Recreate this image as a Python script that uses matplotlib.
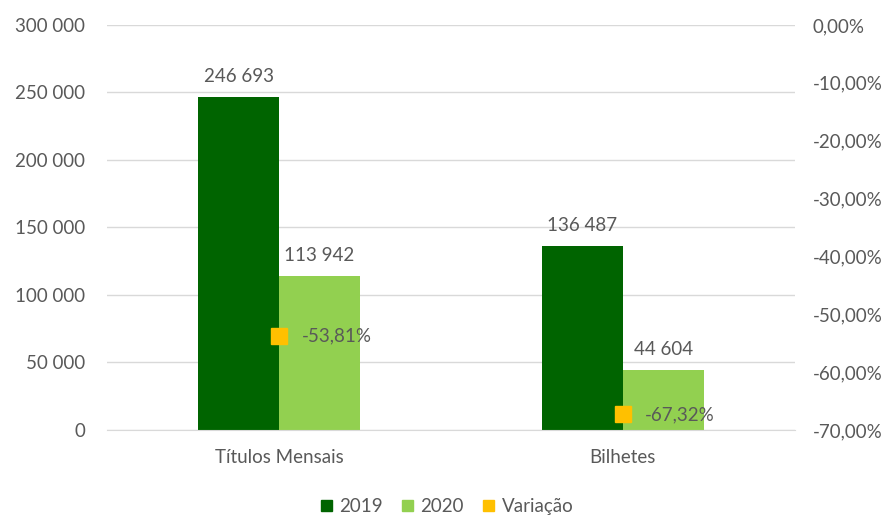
import matplotlib
matplotlib.use("Agg")
import matplotlib.pyplot as plt
import numpy as np
from matplotlib.ticker import FuncFormatter
from matplotlib.patches import Patch

categories = ["Títulos Mensais", "Bilhetes"]
v2019 = [246693, 136487]
v2020 = [113942, 44604]
variacao = [-53.81, -67.32]

plt.rcParams['font.family'] = ['Lato', 'DejaVu Sans']
txt = '#595959'
c2019 = '#006400'
c2020 = '#92d050'
cvar = '#ffc000'
fs = 13.5

fig = plt.figure(figsize=(8.94, 5.19), dpi=100)
ax = fig.add_axes([0.12, 0.1715, 0.769, 0.7805])
ax2 = ax.twinx()

x = np.arange(len(categories))
w = 0.235
b1 = ax.bar(x - w/2, v2019, w, color=c2019, label='2019', zorder=2)
b2 = ax.bar(x + w/2, v2020, w, color=c2020, label='2020', zorder=2)

def fmt_thousands(v):
    return f"{int(round(v)):,}".replace(",", " ")

for rect, v in zip(b1, v2019):
    ax.text(rect.get_x() + rect.get_width()/2, v + 9000, fmt_thousands(v),
            ha='center', va='bottom', fontsize=fs, color=txt)
for rect, v in zip(b2, v2020):
    ax.text(rect.get_x() + rect.get_width()/2, v + 9000, fmt_thousands(v),
            ha='center', va='bottom', fontsize=fs, color=txt)

ax.set_xlim(-0.5, 1.5)
ax.set_ylim(0, 300000)
ax.set_yticks(np.arange(0, 300001, 50000))
ax.yaxis.set_major_formatter(FuncFormatter(lambda v, p: fmt_thousands(v)))
ax.set_xticks(x)
ax.set_xticklabels(categories)
ax.grid(axis='y', color='#d9d9d9', linewidth=1, zorder=0)
ax.set_axisbelow(True)
for s in ['top', 'left', 'right']:
    ax.spines[s].set_visible(False)
ax.spines['bottom'].set_color('#d9d9d9')
ax.tick_params(axis='both', length=0, colors=txt, labelsize=fs)
ax.tick_params(axis='y', pad=16)
ax.tick_params(axis='x', pad=14)

ax2.plot(x, variacao, linestyle='none', marker='s', markersize=11.5,
         color=cvar, label='Variação', zorder=3)
for xi, v in zip(x, variacao):
    ax2.text(xi + 0.065, v, f"{v:.2f}%".replace('.', ','), ha='left', va='center',
             fontsize=fs, color=txt)
ax2.set_ylim(-70, 0)
ax2.set_yticks(np.arange(-70, 1, 10))
ax2.yaxis.set_major_formatter(FuncFormatter(lambda v, p: f"{v:.2f}%".replace('.', ',')))
for s in ax2.spines.values():
    s.set_visible(False)
ax2.tick_params(axis='y', length=0, colors=txt, labelsize=fs, pad=13)

handles = [Patch(color=c2019), Patch(color=c2020), Patch(color=cvar)]
fig.legend(handles, ['2019', '2020', 'Variação'], loc='lower center',
           bbox_to_anchor=(0.5, -0.025), ncol=3, frameon=False, fontsize=fs,
           labelcolor=txt, handlelength=0.6, handleheight=0.6, columnspacing=1.0,
           handletextpad=0.4)

fig.savefig('out.png', dpi=100)
